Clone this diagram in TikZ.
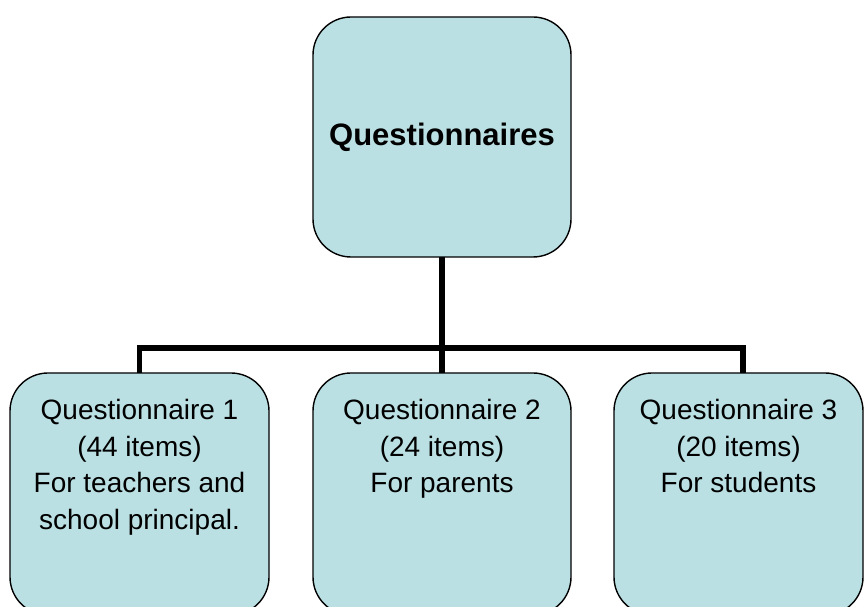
\documentclass[tikz,border=0pt]{standalone}
\usepackage{fontspec}
\setmainfont{Liberation Sans}
\begin{document}
\begin{tikzpicture}[x=1pt,y=1pt,
  card/.style={draw=black, line width=1.4pt, fill=boxfill, rounded corners=38pt,
               outer sep=0pt, inner sep=0pt},
  cardtext/.style={anchor=north, align=center, inner sep=0pt,
               font=\fontsize{28}{36.5}\selectfont},
  link/.style={line width=5.5pt, line join=miter, draw=black}]
\definecolor{boxfill}{HTML}{BBE0E3}
\useasboundingbox (0,0) rectangle (864,607);

% root box
\node[card, minimum width=258pt, minimum height=240pt,
      font=\fontsize{31}{37}\selectfont\bfseries] (root) at (442,470) {Questionnaires};

% the three questionnaires
\node[card, minimum width=259pt, minimum height=242pt] (b1) at (139.5,113) {};
\node[card, minimum width=258pt, minimum height=242pt] (b2) at (442,113) {};
\node[card, minimum width=249pt, minimum height=242pt] (b3) at (738.5,113) {};

\node[cardtext] (t1) at ([yshift=-26.5pt]b1.north)
  {Questionnaire 1\\(44 items)\\For teachers and\\school principal.};
\node[cardtext] (t2) at ([yshift=-26.5pt]b2.north)
  {Questionnaire 2\\(24 items)\\For parents};
\node[cardtext] (t3) at ([yshift=-26.5pt]b3.north)
  {Questionnaire 3\\(20 items)\\For students};

% tree connectors
\draw[link] (root.south) -- ++(0,-91) coordinate (hub);
\draw[link] (b1.north) |- (hub) -| ([xshift=4.5pt]b3.north);
\draw[link] (hub) -- (b2.north);
\end{tikzpicture}
\end{document}
